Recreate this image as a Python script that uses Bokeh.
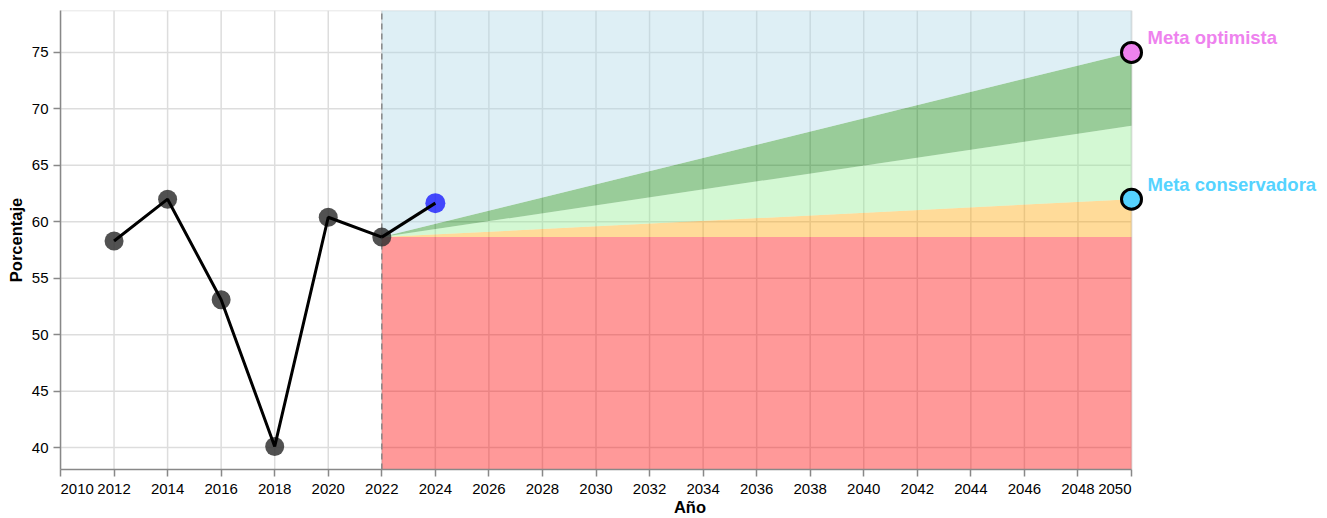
from bokeh.plotting import figure
from bokeh.models import FixedTicker, Range1d
from bokeh.core.properties import value
from bokeh.embed import file_html
from bokeh.resources import INLINE

# ---- data ----
years = [2012, 2014, 2016, 2018, 2020, 2022]
values = [58.3, 62.0, 53.1, 40.1, 60.4, 58.64]
latest_year = [2022, 2024]
latest_value = [58.64, 61.65]
proj_years = [2022, 2050]
base_line = [58.64, 58.64]
cons_line = [58.64, 62.0]
mid_line = [58.64, 68.5]
opt_line = [58.64, 75.0]
goal_years = [2050, 2050]
goal_values = [75.0, 62.0]
goal_labels = ["Meta optimista", "Meta conservadora"]
goal_colors = ["#ee82ee", "#55d3ff"]
x_ticks = list(range(2010, 2051, 2))
y_ticks = [40, 45, 50, 55, 60, 65, 70, 75]
X_MIN, X_MAX = 2010, 2050
Y_MIN, Y_MAX = 38.06, 78.71

FONT = "Liberation Sans"
W, H = 1327, 518
BL, BR, BT, BB = 60, 8, 10, 48
frame_w = W - BL - BR
axis_px = 1071.0
x_end = X_MIN + (X_MAX - X_MIN) * frame_w / axis_px

p = figure(width=W, height=H, output_backend="svg", toolbar_location=None,
           x_range=Range1d(X_MIN, x_end), y_range=Range1d(Y_MIN, Y_MAX),
           min_border_left=BL, min_border_right=BR, min_border_top=BT,
           min_border_bottom=BB)
p.outline_line_color = None
p.xgrid.visible = False
p.ygrid.visible = False
p.background_fill_color = "white"

# manual grid limited to the axis span
grid_col = "#dddddd"
p.segment(x0=x_ticks, x1=x_ticks, y0=[Y_MIN] * len(x_ticks), y1=[Y_MAX] * len(x_ticks),
          line_color=grid_col, line_width=1.5)
p.segment(x0=[X_MIN] * len(y_ticks), x1=[X_MAX] * len(y_ticks), y0=y_ticks, y1=y_ticks,
          line_color=grid_col, line_width=1.5)
# view border (top and right)
p.segment(x0=[X_MIN, X_MAX], x1=[X_MAX, X_MAX], y0=[Y_MAX, Y_MIN], y1=[Y_MAX, Y_MAX],
          line_color=grid_col, line_width=1.5)

# projection bands
p.varea(x=proj_years, y1=[Y_MIN, Y_MIN], y2=base_line, fill_color="#ff0000", fill_alpha=0.4)
p.varea(x=proj_years, y1=base_line, y2=cons_line, fill_color="#ffa500", fill_alpha=0.4)
p.varea(x=proj_years, y1=cons_line, y2=mid_line, fill_color="#90ee90", fill_alpha=0.4)
p.varea(x=proj_years, y1=mid_line, y2=opt_line, fill_color="#008000", fill_alpha=0.4)
p.varea(x=proj_years, y1=opt_line, y2=[Y_MAX, Y_MAX], fill_color="#add8e6", fill_alpha=0.4)

# dashed divider
p.segment(x0=[2022], x1=[2022], y0=[Y_MIN], y1=[Y_MAX], line_color="#888888",
          line_width=1.5, line_dash="6 4")

# history
p.scatter(years, values, size=19, fill_color="#333333", fill_alpha=0.85, line_color=None)
p.scatter(latest_year[1:], latest_value[1:], size=20, fill_color="#0000ff", fill_alpha=0.7,
          line_color=None)
p.line(years, values, line_color="black", line_width=3)
p.line(latest_year, latest_value, line_color="black", line_width=3)

# goals
p.scatter(goal_years, goal_values, size=20, fill_color=goal_colors, line_color="black",
          line_width=3)
p.text(x=goal_years, y=goal_values, text=goal_labels, text_color=goal_colors,
       text_font=value(FONT), text_font_size="18.5px", text_font_style="bold",
       text_baseline="middle", text_align="left", x_offset=16, y_offset=-15)

# axes
for ax in (p.xaxis[0], p.yaxis[0]):
    ax.axis_line_color = "#888888"
    ax.major_tick_line_color = "#888888"
    ax.axis_line_width = 1.5
    ax.major_tick_line_width = 1.5
    ax.major_tick_in = 0
    ax.major_tick_out = 7
    ax.minor_tick_line_color = None
    ax.major_label_text_font = FONT
    ax.major_label_text_font_size = "15px"
    ax.major_label_text_color = "#000000"
    ax.major_label_text_line_height = 1.0
    ax.axis_label_text_font = FONT
    ax.axis_label_text_font_size = "16.5px"
    ax.axis_label_text_font_style = "bold"
    ax.axis_label_text_color = "#000000"

p.xaxis[0].major_label_standoff = 3
p.xaxis[0].axis_label_standoff = -2
p.yaxis[0].major_label_standoff = 5
p.yaxis[0].axis_label_standoff = 4

p.xaxis[0].ticker = FixedTicker(ticks=x_ticks)
p.yaxis[0].ticker = FixedTicker(ticks=y_ticks)
p.xaxis[0].bounds = (X_MIN, X_MAX)
p.xaxis[0].axis_label = "Año"
p.yaxis[0].axis_label = "Porcentaje"

# flush first / last x tick labels (pad with no-break spaces)
pad = "\u00a0" * 8
p.xaxis[0].major_label_overrides = {x_ticks[0]: pad + str(x_ticks[0]),
                                    x_ticks[-1]: str(x_ticks[-1]) + pad}

open("out.html", "w").write(file_html(p, INLINE))
